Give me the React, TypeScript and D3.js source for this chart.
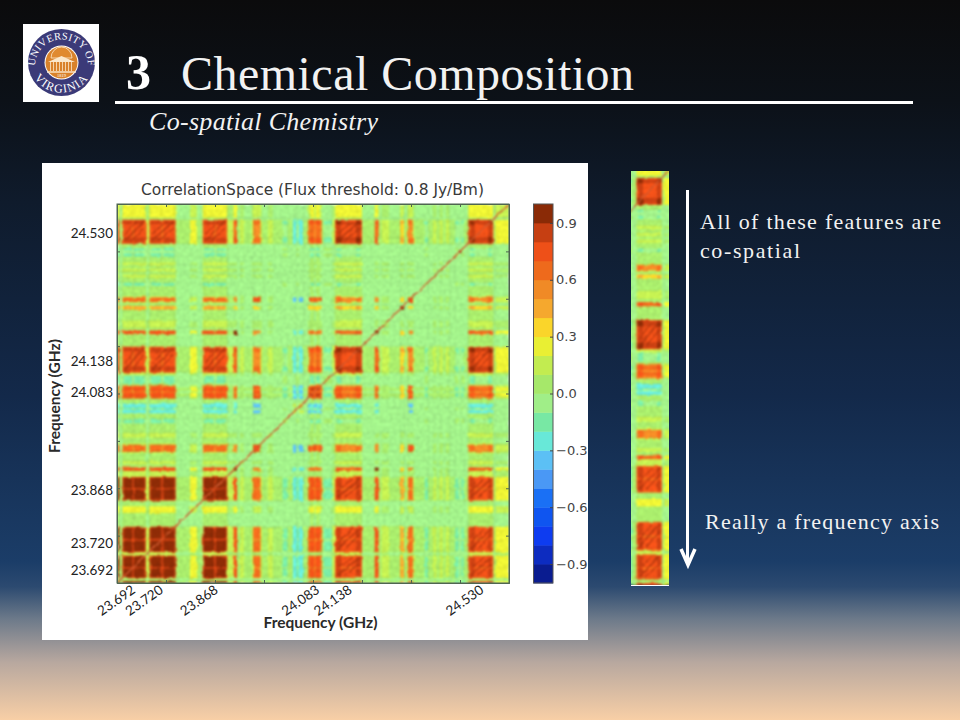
import { useEffect, useRef } from "react";
import * as d3 from "d3";

// colour levels, lowest (-1.0) to highest (+1.0), 0.1 wide each
const levelColors = [
  "#0a1c90", "#0d2cc0", "#0e3cf0", "#0f55f0", "#1a70f5",
  "#4a98f5", "#5cc0f5", "#68e8d8", "#78e8a4", "#a0ee88",
  "#a6e86a", "#c2ec50", "#e9ef33", "#fad52a", "#f5a82e",
  "#f08a26", "#ee6a1c", "#ee5018", "#c63f12", "#8a2a06",
];

// kinds of spectral channel and how strongly they correlate (lower triangle)
const kinds = ["S", "s", "U", "u", "M", "T", "m", "n", "y", "l", "g", "e", "c", "i"];
const kindCorrelation = [
  [0.95],
  [0.82, 0.72],
  [0.85, 0.72, 0.95],
  [0.72, 0.65, 0.8, 0.72],
  [0.75, 0.68, 0.75, 0.68, 0.82],
  [0.75, 0.62, 0.75, 0.62, 0.65, 0.92],
  [0.68, 0.58, 0.66, 0.58, 0.62, 0.58, 0.72],
  [0.42, 0.35, 0.42, 0.35, 0.38, 0.3, 0.32, 0.92],
  [0.28, 0.25, 0.28, 0.25, 0.22, 0.2, 0.16, 0.12, 0.12],
  [0.13, 0.11, 0.12, 0.11, 0.08, 0.08, 0.06, 0.05, 0.05, 0.03],
  [0.03, 0.03, 0.02, 0.02, 0.01, -0.02, -0.02, -0.02, -0.02, -0.02, -0.02],
  [-0.12, -0.1, -0.12, -0.1, -0.12, -0.1, -0.1, -0.05, -0.05, -0.03, -0.03, 0.02],
  [-0.28, -0.24, -0.28, -0.24, -0.28, -0.24, -0.32, -0.1, -0.1, -0.05, -0.05, -0.1, 0.12],
  [-0.02, -0.02, -0.02, -0.02, -0.02, -0.02, -0.02, -0.02, -0.02, -0.02, -0.02, -0.08, -0.1, 0.95],
];

// channel bands along the frequency axis
const bandEnds = [
  5, 11, 14, 31, 35, 56, 59, 66, 69, 90, 95, 117, 120, 149, 163, 175, 178, 198, 202, 222, 225,
  238, 245, 251, 259, 275, 278, 293, 296, 308, 318, 338, 348, 359, 366, 371, 380, 390, 394, 402, 406, 414,
  418, 422, 439, 445, 448, 458, 488, 497, 500, 526, 534, 540, 555, 578, 586, 592, 594, 604, 606, 628, 635,
  645, 652, 658, 665, 671, 678, 690, 697, 703, 708, 717, 720, 730, 758, 765, 768, 772, 800,
];
const bandKinds = [
  "S", "g", "s", "S", "s", "S", "s", "l", "s", "S", "s", "S", "s", "g", "y", "g", "s", "S", "s", "S", "s",
  "l", "T", "g", "l", "g", "l", "m", "l", "g", "l", "g", "e", "g", "c", "e", "c", "g", "m", "M", "m", "M",
  "m", "g", "e", "l", "u", "U", "u", "U", "u", "g", "T", "g", "l", "g", "n", "g", "l", "m", "l", "g", "e",
  "g", "l", "g", "l", "g", "l", "g", "e", "i", "e", "g", "u", "U", "u", "U", "u", "g", "y",
];

// strong blocks, used for the diagonal streaks between them
const blockA = [14, 56];
const blockB = [69, 117];
const blockC = [178, 222];
const blockE = [448, 497];
const blockF = [720, 765];
const streakPairs = [
  [blockE, blockF], [blockF, blockE], [blockA, blockF], [blockF, blockA],
  [blockB, blockF], [blockF, blockB], [blockC, blockF], [blockF, blockC],
  [blockA, blockE], [blockE, blockA], [blockB, blockE], [blockE, blockB],
  [blockC, blockE], [blockE, blockC],
];
const streakShifts = [-14, 0, 14];

const channelTicks = [100, 200, 300, 400, 500, 600, 700];
const freqChannels = [27, 84, 196, 403, 469, 738];
const freqLabels = ["23.692", "23.720", "23.868", "24.083", "24.138", "24.530"];
const colorbarTicks = [0.9, 0.6, 0.3, 0, -0.3, -0.6, -0.9];
const logoColumns = [50, 53, 56, 59, 62, 65, 68, 71];

const serif = "'Liberation Serif', serif";
const lato = "Lato, 'Open Sans', sans-serif";
const dejavu = "'DejaVu Sans', sans-serif";

function correlationOf(a: string, b: string) {
  const i = kinds.indexOf(a);
  const j = kinds.indexOf(b);
  return i >= j ? kindCorrelation[i][j] : kindCorrelation[j][i];
}

function drawHeat(
  group: d3.Selection<SVGGElement, unknown, null, undefined>,
  x: d3.ScaleLinear<number, number>,
  y: d3.ScaleLinear<number, number>,
) {
  const color = d3.scaleQuantize<string>().domain([-1, 1]).range(levelColors);
  const bands = bandEnds.map((end, i) => ({
    start: i === 0 ? 0 : bandEnds[i - 1],
    end,
    kind: bandKinds[i],
  }));
  const cells = bands.flatMap((col) => bands.map((row) => ({ col, row })));

  group
    .selectAll("rect.cell")
    .data(cells)
    .join("rect")
    .attr("class", "cell")
    .attr("x", (d) => x(d.col.start))
    .attr("y", (d) => y(d.row.end))
    .attr("width", (d) => x(d.col.end) - x(d.col.start) + 0.5)
    .attr("height", (d) => y(d.row.start) - y(d.row.end) + 0.5)
    .attr("fill", (d) => color(correlationOf(d.col.kind, d.row.kind)));

  const streak = d3
    .line<[number, number]>()
    .x((d) => x(d[0]))
    .y((d) => y(d[1]));

  // off-diagonal streaks: a main one and a thinner pair either side
  group
    .selectAll("path.streak")
    .data(streakPairs.flatMap(([c, r]) => streakShifts.map((shift) => ({ c, r, shift }))))
    .join("path")
    .attr("class", "streak")
    .attr("fill", "none")
    .attr("stroke", "#9c300c")
    .attr("stroke-opacity", 0.75)
    .attr("stroke-width", (d) => (d.shift === 0 ? 1.6 : 1.1))
    .attr("d", (d) =>
      streak([
        [d.c[0] + Math.max(d.shift, 0) + 2, d.r[0] + Math.max(-d.shift, 0) + 2],
        [d.c[1] + Math.min(d.shift, 0) - 2, d.r[1] + Math.min(-d.shift, 0) - 2],
      ]),
    );

  // main diagonal
  group
    .append("path")
    .attr("class", "diagonal")
    .attr("fill", "none")
    .attr("stroke", "#c9562c")
    .attr("stroke-width", 1.4)
    .attr("d", streak([[0, 0], [800, 800]]));
}

export default function App() {
  const heatRef = useRef<SVGGElement | null>(null);
  const stripRef = useRef<SVGGElement | null>(null);
  const axesRef = useRef<SVGGElement | null>(null);
  const colorbarRef = useRef<SVGGElement | null>(null);

  useEffect(() => {
    if (!heatRef.current || !stripRef.current || !axesRef.current || !colorbarRef.current) return;

    const x = d3.scaleLinear().domain([0, 800]).range([117, 509]);
    const y = d3.scaleLinear().domain([0, 800]).range([583, 204]);

    const heat = d3.select(heatRef.current);
    heat.selectAll("*").remove();
    drawHeat(heat, x, y);

    // the cut-out column on the right is the same matrix, stretched
    const stripX = d3.scaleLinear().domain([706, 782]).range([631, 669]);
    const stripY = d3.scaleLinear().domain([0, 780]).range([585, 171]);
    const strip = d3.select(stripRef.current);
    strip.selectAll("*").remove();
    drawHeat(strip, stripX, stripY);

    const axes = d3.select(axesRef.current);
    axes.selectAll("*").remove();

    const tickLines = [
      { gen: d3.axisBottom(x).tickSize(-3), at: `translate(0,583)` },
      { gen: d3.axisTop(x).tickSize(-3), at: `translate(0,204)` },
      { gen: d3.axisLeft(y).tickSize(-3), at: `translate(117,0)` },
      { gen: d3.axisRight(y).tickSize(-3), at: `translate(509,0)` },
    ];
    tickLines.forEach(({ gen, at }) => {
      axes
        .append("g")
        .attr("transform", at)
        .call(gen.tickValues(channelTicks).tickFormat(() => ""))
        .call((g) => g.selectAll("line,path").attr("stroke", "#4f6650"));
    });

    axes
      .selectAll("text.ylab")
      .data(freqChannels)
      .join("text")
      .attr("class", "ylab")
      .attr("x", 113)
      .attr("y", (d) => y(d))
      .attr("dy", "0.36em")
      .attr("text-anchor", "end")
      .attr("font-family", lato)
      .attr("font-size", 13.5)
      .attr("fill", "#222")
      .text((_, i) => freqLabels[i]);

    axes
      .selectAll("text.xlab")
      .data(freqChannels)
      .join("text")
      .attr("class", "xlab")
      .attr("transform", (d) => `translate(${x(d) + 6},592) rotate(-35)`)
      .attr("text-anchor", "end")
      .attr("font-family", lato)
      .attr("font-size", 13.5)
      .attr("fill", "#222")
      .text((_, i) => freqLabels[i]);

    // colorbar
    const levelY = d3.scaleLinear().domain([-1, 1]).range([583, 204]);
    const bar = d3.select(colorbarRef.current);
    bar.selectAll("*").remove();
    bar
      .selectAll("rect")
      .data(levelColors)
      .join("rect")
      .attr("x", 533.5)
      .attr("width", 19.5)
      .attr("y", (_, i) => levelY(-1 + (i + 1) * 0.1))
      .attr("height", levelY(0) - levelY(0.1) + 0.4)
      .attr("fill", (d) => d);
    bar
      .append("rect")
      .attr("x", 533.5)
      .attr("y", 204)
      .attr("width", 19.5)
      .attr("height", 379)
      .attr("fill", "none")
      .attr("stroke", "#555");
    const barAxis = bar
      .append("g")
      .attr("transform", "translate(553,0)")
      .call(
        d3
          .axisRight(levelY)
          .tickValues(colorbarTicks)
          .tickSize(-3)
          .tickPadding(3)
          .tickFormat((d) => d3.format(".1f")(d as number).replace("-", "\u2212")),
      );
    barAxis.select("path").remove();
    barAxis.selectAll("line").attr("stroke", "#444");
    barAxis
      .selectAll("text")
      .attr("font-family", dejavu)
      .attr("font-size", 13)
      .attr("fill", "#444");
  }, []);

  return (
    <svg width={960} height={720} style={{ position: "absolute", left: 0, top: 0 }}>
      <defs>
        <linearGradient id="slideBg" x1="0" y1="0" x2="0" y2="1">
          <stop offset="0" stopColor="#0b0b0c" />
          <stop offset="0.14" stopColor="#0c1118" />
          <stop offset="0.28" stopColor="#0f1b2c" />
          <stop offset="0.55" stopColor="#13294a" />
          <stop offset="0.78" stopColor="#1b3d68" />
          <stop offset="0.815" stopColor="#2c4a70" />
          <stop offset="0.86" stopColor="#6d7a8a" />
          <stop offset="0.92" stopColor="#b8a89f" />
          <stop offset="1" stopColor="#f8cfa6" />
        </linearGradient>
        {/* blurry, mottled look of the scanned-in matrix */}
        <filter id="soft" x="-2%" y="-2%" width="104%" height="104%" colorInterpolationFilters="sRGB">
          <feTurbulence type="fractalNoise" baseFrequency="0.16" numOctaves={2} seed={3} result="wobble" />
          <feDisplacementMap in="SourceGraphic" in2="wobble" scale={3} xChannelSelector="R" yChannelSelector="G" result="moved" />
          <feTurbulence type="fractalNoise" baseFrequency="0.3" numOctaves={2} seed={8} />
          <feColorMatrix values="1 0 0 0 0  1 0 0 0 0  1 0 0 0 0  0 0 0 0 1" result="grain" />
          <feComposite in="moved" in2="grain" operator="arithmetic" k1={0.22} k2={0.92} k3={0} k4={0} result="speckled" />
          <feGaussianBlur in="speckled" stdDeviation="0.8" />
        </filter>
        <clipPath id="heatClip">
          <rect x={117} y={204} width={392} height={379} />
        </clipPath>
        <clipPath id="stripClip">
          <rect x={631} y={171} width={38} height={414} />
        </clipPath>
        <path id="logoTop" d="M 35 66 A 26.5 26.5 0 0 1 88 66" />
        <path id="logoBottom" d="M 29 60 A 32.5 32.5 0 0 0 94 60" />
      </defs>

      <rect width={960} height={720} fill="url(#slideBg)" />

      {/* logo */}
      <rect x={23} y={24} width={76} height={78} fill="#fff" />
      <circle cx={61.5} cy={62.5} r={33.5} fill="#3b3a78" />
      <circle cx={61.5} cy={62.5} r={17} fill="#fff" />
      <circle cx={61.5} cy={62.5} r={16} fill="#d9822b" />
      <path d="M 51 58 A 10.5 11 0 0 1 72 58 Z" fill="#e08a30" stroke="#fbe8cc" strokeWidth={0.8} />
      <path d="M 48 62 L 61.5 56 L 75 62 Z" fill="#fbe8cc" />
      {logoColumns.map((cx) => (
        <line key={cx} x1={cx + 0.5} x2={cx + 0.5} y1={62} y2={71} stroke="#fbe8cc" strokeWidth={0.8} />
      ))}
      <line x1={47} x2={76} y1={72} y2={72} stroke="#fbe8cc" strokeWidth={1.4} />
      <text x={61.5} y={77} textAnchor="middle" fill="#fff" fontFamily={serif} fontSize={4.5}>1819</text>
      <text fill="#fff" fontFamily={serif} fontSize={10.5} letterSpacing={0.3}>
        <textPath href="#logoTop" startOffset="50%" textAnchor="middle">UNIVERSITY OF</textPath>
      </text>
      <text fill="#fff" fontFamily={serif} fontSize={12} letterSpacing={1.2}>
        <textPath href="#logoBottom" startOffset="50%" textAnchor="middle">VIRGINIA</textPath>
      </text>

      {/* heading */}
      <text x={126} y={89} fill="#fff" fontFamily={serif} fontWeight="bold" fontSize={50}>3</text>
      <text x={181} y={90} fill="#f2f2f2" fontFamily={serif} fontSize={48} textLength={453} lengthAdjust="spacing">
        Chemical Composition
      </text>
      <line x1={115} x2={913} y1={102.5} y2={102.5} stroke="#fff" strokeWidth={3} />
      <text x={149} y={130} fill="#f2f2f2" fontFamily={serif} fontStyle="italic" fontSize={26} textLength={229} lengthAdjust="spacing">
        Co-spatial Chemistry
      </text>

      {/* figure panel */}
      <rect x={42} y={163} width={546} height={477} fill="#fff" />
      <text x={312.5} y={195} textAnchor="middle" fontFamily={dejavu} fontSize={15.5} fill="#3a3a3a" textLength={343} lengthAdjust="spacing">
        CorrelationSpace (Flux threshold: 0.8 Jy/Bm)
      </text>
      <g clipPath="url(#heatClip)">
        <g ref={heatRef} filter="url(#soft)" />
      </g>
      <rect x={117} y={204} width={392} height={379} fill="none" stroke="#4f6650" />
      <g ref={axesRef} />
      <g ref={colorbarRef} />
      <text x={320.5} y={628} textAnchor="middle" fontFamily={lato} fontWeight="bold" fontSize={15.5} fill="#2a2a2a">
        Frequency (GHz)
      </text>
      <text transform="translate(60,396) rotate(-90)" textAnchor="middle" fontFamily={lato} fontWeight="bold" fontSize={15.5} fill="#2a2a2a">
        Frequency (GHz)
      </text>

      {/* cut-out column */}
      <g clipPath="url(#stripClip)">
        <g ref={stripRef} filter="url(#soft)" />
      </g>
      <line x1={631} x2={669} y1={585.5} y2={585.5} stroke="#fff" strokeWidth={1} />

      {/* arrow and notes */}
      <line x1={687.5} x2={687.5} y1={190} y2={564} stroke="#fff" strokeWidth={3} />
      <path d="M 681 549 L 688 565 L 695 549" fill="none" stroke="#fff" strokeWidth={3.5} />
      <g fill="#f2f2f2" fontFamily={serif} fontSize={22}>
        <text x={700} y={229} textLength={241} lengthAdjust="spacing">All of these features are</text>
        <text x={700} y={258} textLength={100} lengthAdjust="spacing">co-spatial</text>
        <text x={705} y={529} textLength={234} lengthAdjust="spacing">Really a frequency axis</text>
      </g>
    </svg>
  );
}
